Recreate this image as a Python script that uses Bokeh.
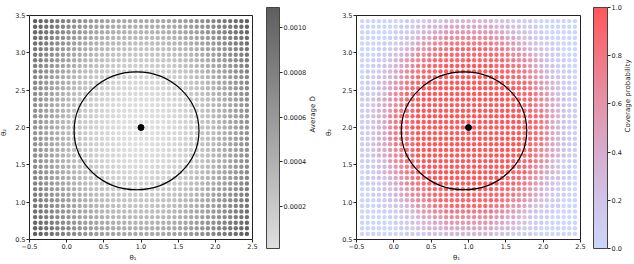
import math
import numpy as np
from bokeh.plotting import figure
from bokeh.layouts import row
from bokeh.models import (Range1d, LinearColorMapper, FixedTicker, ColumnDataSource,
                          BoxAnnotation, Axis)
from bokeh.embed import file_html
from bokeh.resources import INLINE

# ---------------- data ----------------
theta1_grid = [-0.425, -0.35, -0.275, -0.2, -0.125, -0.05, 0.025, 0.1, 0.175, 0.25,
               0.325, 0.4, 0.475, 0.55, 0.625, 0.7, 0.775, 0.85, 0.925, 1.0,
               1.075, 1.15, 1.225, 1.3, 1.375, 1.45, 1.525, 1.6, 1.675, 1.75,
               1.825, 1.9, 1.975, 2.05, 2.125, 2.2, 2.275, 2.35, 2.425]
theta2_grid = [0.575, 0.65, 0.725, 0.8, 0.875, 0.95, 1.025, 1.1, 1.175, 1.25,
               1.325, 1.4, 1.475, 1.55, 1.625, 1.7, 1.775, 1.85, 1.925, 2.0,
               2.075, 2.15, 2.225, 2.3, 2.375, 2.45, 2.525, 2.6, 2.675, 2.75,
               2.825, 2.9, 2.975, 3.05, 3.125, 3.2, 3.275, 3.35, 3.425]

# coverage probability levels (x/9), quadrant:
# row = grid steps away from centre in theta2, column = steps away in theta1
coverage_quadrant = [
    "99999999999887643211",
    "99999999998887643211",
    "99999999998887643211",
    "99999999998877543211",
    "99999999998876543211",
    "99999999998876543211",
    "99999999988876532111",
    "99999999988765432110",
    "99999999888765432110",
    "99999998887654322110",
    "99999988877654321110",
    "99999888776543221100",
    "98888887766543211100",
    "88888877665432211000",
    "88887776554322111000",
    "77777665543221110000",
    "66666554432211100000",
    "55555443322111000000",
    "44444333221110000000",
    "33333222111100000000",
]

# average D-hat in units of 1e-5, same quadrant layout
dhat_quadrant = [
    [1, 1, 2, 3, 4, 6, 8, 10, 13, 16, 19, 23, 27, 31, 36, 41, 47, 52, 59, 65],
    [1, 2, 2, 3, 4, 6, 8, 10, 13, 16, 19, 23, 27, 31, 36, 41, 47, 52, 59, 65],
    [2, 2, 3, 3, 5, 6, 8, 10, 13, 16, 19, 23, 27, 32, 36, 42, 47, 53, 59, 66],
    [2, 3, 3, 4, 5, 7, 9, 11, 14, 17, 20, 24, 28, 32, 37, 42, 48, 53, 60, 66],
    [3, 3, 4, 5, 6, 8, 10, 12, 15, 18, 21, 25, 29, 33, 38, 43, 48, 54, 60, 67],
    [4, 5, 5, 6, 7, 9, 11, 13, 16, 19, 22, 26, 30, 34, 39, 44, 50, 55, 62, 68],
    [6, 6, 6, 7, 9, 10, 12, 14, 17, 20, 23, 27, 31, 36, 40, 45, 51, 57, 63, 69],
    [7, 7, 8, 9, 10, 12, 14, 16, 19, 22, 25, 29, 33, 37, 42, 47, 52, 58, 65, 71],
    [9, 9, 10, 11, 12, 14, 15, 18, 20, 23, 27, 30, 35, 39, 44, 49, 54, 60, 66, 73],
    [11, 11, 12, 13, 14, 16, 18, 20, 22, 25, 29, 33, 37, 41, 46, 51, 56, 62, 68, 75],
    [14, 14, 14, 15, 16, 18, 20, 22, 25, 28, 31, 35, 39, 43, 48, 53, 59, 65, 71, 77],
    [16, 16, 17, 18, 19, 20, 22, 25, 27, 30, 34, 37, 42, 46, 51, 56, 61, 67, 73, 80],
    [19, 19, 20, 20, 22, 23, 25, 28, 30, 33, 37, 40, 44, 49, 53, 59, 64, 70, 76, 83],
    [22, 22, 23, 24, 25, 26, 28, 31, 33, 36, 40, 43, 47, 52, 57, 62, 67, 73, 79, 86],
    [25, 25, 26, 27, 28, 30, 32, 34, 37, 40, 43, 47, 51, 55, 60, 65, 70, 76, 82, 89],
    [29, 29, 29, 30, 32, 33, 35, 37, 40, 43, 46, 50, 54, 59, 63, 69, 74, 80, 86, 93],
    [33, 33, 33, 34, 35, 37, 39, 41, 44, 47, 50, 54, 58, 62, 67, 72, 78, 84, 90, 96],
    [37, 37, 37, 38, 39, 41, 43, 45, 48, 51, 54, 58, 62, 66, 71, 76, 82, 88, 94, 100],
    [41, 41, 42, 42, 44, 45, 47, 50, 52, 55, 59, 62, 66, 71, 75, 81, 86, 92, 98, 105],
    [45, 46, 46, 47, 48, 50, 52, 54, 57, 60, 63, 67, 71, 75, 80, 85, 91, 96, 103, 109],
]

dhat_low, dhat_high = 0.000013, 0.00109
cov_low, cov_high = 0.0, 1.0

theta1_lim = (-0.5, 2.5)
theta2_lim = (0.5, 3.5)

region_center = (0.94, 1.956)
region_size = (1.68, 1.58)
theta_true = (1.0, 2.0)

x_ticks = [-0.5, 0.0, 0.5, 1.0, 1.5, 2.0, 2.5]
x_tick_labels = ["\u22120.5", "0.0", "0.5", "1.0", "1.5", "2.0", "2.5"]
y_ticks = [0.5, 1.0, 1.5, 2.0, 2.5, 3.0, 3.5]
y_tick_labels = ["0.5", "1.0", "1.5", "2.0", "2.5", "3.0", "3.5"]
dhat_ticks = [0.0002, 0.0004, 0.0006, 0.0008, 0.0010]
dhat_tick_labels = ["0.0002", "0.0004", "0.0006", "0.0008", "0.0010"]
cov_ticks = [0.0, 0.2, 0.4, 0.6, 0.8, 1.0]
cov_tick_labels = ["0.0", "0.2", "0.4", "0.6", "0.8", "1.0"]

# ---------------- build grid ----------------
centre_index = 19
xs, ys, cov_vals, dhat_vals = [], [], [], []
for m, t2 in enumerate(theta2_grid):
    for k, t1 in enumerate(theta1_grid):
        i = abs(k - centre_index)
        j = abs(m - centre_index)
        xs.append(t1)
        ys.append(t2)
        cov_vals.append(int(coverage_quadrant[j][i]) / 9.0)
        dhat_vals.append(dhat_quadrant[j][i] * 1e-5)

FONT = "DejaVu Sans"
TXT = "#222222"
H = 264  # every figure is one full-height frame; boxes are placed by range padding


def padded_range(lo, hi, px_lo, px_hi, px_total, from_top=False):
    """Range whose [lo, hi] occupies pixels px_lo..px_hi of a px_total frame."""
    upp = (hi - lo) / (px_hi - px_lo)
    if from_top:
        return Range1d(lo - (px_total - px_hi) * upp, hi + px_lo * upp)
    return Range1d(lo - px_lo * upp, hi + (px_total - px_hi) * upp)


def make_palette(stops, n=256):
    ts = [s[0] for s in stops]
    out = []
    for q in range(n):
        t = q / (n - 1)
        rgb = [int(round(np.interp(t, ts, [s[1][c] for s in stops]))) for c in range(3)]
        out.append("#%02x%02x%02x" % tuple(rgb))
    return out


gray_palette = make_palette([(0.0, (223, 223, 223)), (1.0, (94, 94, 94))])
cov_palette = make_palette([(0.0, (203, 214, 250)), (0.2, (208, 196, 232)),
                            (0.4, (215, 172, 206)), (0.6, (228, 148, 170)),
                            (0.8, (242, 118, 130)), (1.0, (255, 88, 90))])

gray_mapper = LinearColorMapper(palette=gray_palette, low=dhat_low, high=dhat_high)
cov_mapper = LinearColorMapper(palette=cov_palette, low=cov_low, high=cov_high)


def style_axis(ax, ticks, labels):
    ax.ticker = FixedTicker(ticks=ticks)
    ax.major_label_overrides = {t: l for t, l in zip(ticks, labels)}
    ax.axis_line_color = None
    ax.major_tick_line_color = TXT
    ax.major_tick_out = 3
    ax.major_tick_in = 0
    ax.minor_tick_line_color = None
    ax.major_label_standoff = 1
    ax.major_label_text_font = FONT
    ax.major_label_text_font_size = "6.5px"
    ax.major_label_text_color = TXT
    ax.axis_label_text_font = FONT
    ax.axis_label_text_font_size = "7px"
    ax.axis_label_text_font_style = "normal"
    ax.axis_label_text_color = TXT


def bare_figure(width, x_range, y_range, **kw):
    f = figure(width=width, height=H, x_range=x_range, y_range=y_range,
               output_backend="svg", toolbar_location=None,
               min_border_left=0, min_border_right=0, min_border_top=0, min_border_bottom=0,
               **kw)
    f.grid.visible = False
    f.outline_line_color = None
    f.background_fill_color = "white"
    f.border_fill_color = "white"
    return f


def panel(values, mapper, width, box_left, box_right, ylabel_standoff):
    p = bare_figure(width,
                    padded_range(*theta1_lim, box_left, box_right, width),
                    padded_range(*theta2_lim, 15, 239, H, from_top=True))
    src = ColumnDataSource(dict(x=xs, y=ys, v=values))
    p.scatter("x", "y", source=src, size=4.4, line_color=None,
              fill_color={"field": "v", "transform": mapper})
    p.ellipse(x=[region_center[0]], y=[region_center[1]], width=[region_size[0]],
              height=[region_size[1]], fill_color=None, line_color="black", line_width=1.2)
    p.scatter(x=[theta_true[0]], y=[theta_true[1]], size=6, color="black")
    p.add_layout(BoxAnnotation(left=theta1_lim[0], right=theta1_lim[1],
                               bottom=theta2_lim[0], top=theta2_lim[1],
                               fill_color=None, fill_alpha=0,
                               line_color=TXT, line_width=1, line_alpha=1))
    xa, ya = p.xaxis[0], p.yaxis[0]
    style_axis(xa, x_ticks, x_tick_labels)
    style_axis(ya, y_ticks, y_tick_labels)
    xa.fixed_location = theta2_lim[0]
    ya.fixed_location = theta1_lim[0]
    xa.axis_label = "\u03b8\u2081"
    ya.axis_label = "\u03b8\u2082"
    xa.axis_label_standoff = 2
    ya.axis_label_standoff = ylabel_standoff
    return p


def colorbar(mapper, low, high, ticks, labels, label, width, bar_left, bar_right, label_standoff):
    c = bare_figure(width,
                    padded_range(0, 1, bar_left, bar_right, width),
                    padded_range(low, high, 7, 248, H, from_top=True),
                    x_axis_location=None, y_axis_location="right")
    c.image(image=[np.linspace(low, high, 256).reshape(256, 1)], x=0, y=low, dw=1,
            dh=high - low, color_mapper=mapper)
    c.add_layout(BoxAnnotation(left=0, right=1, bottom=low, top=high,
                               fill_color=None, fill_alpha=0,
                               line_color="#444444", line_width=1, line_alpha=1))
    ax = c.yaxis[0]
    style_axis(ax, ticks, labels)
    ax.fixed_location = 1
    ax.axis_label = label
    ax.axis_label_standoff = label_standoff
    if "axis_label_orientation" in Axis.properties():
        ax.axis_label_orientation = math.pi / 2
    return c


p1 = panel(dhat_vals, gray_mapper, 265, 29, 252, 4)
cb1 = colorbar(gray_mapper, dhat_low, dhat_high, dhat_ticks, dhat_tick_labels,
               "Average D\u0302", 55, 1, 14, 4)
p2 = panel(cov_vals, cov_mapper, 272, 36, 260, 6)
cb2 = colorbar(cov_mapper, cov_low, cov_high, cov_ticks, cov_tick_labels,
               "Coverage probability", 42, 1, 15, 3)

layout = row(p1, cb1, p2, cb2, spacing=0)
open("out.html", "w").write(file_html(layout, INLINE))
